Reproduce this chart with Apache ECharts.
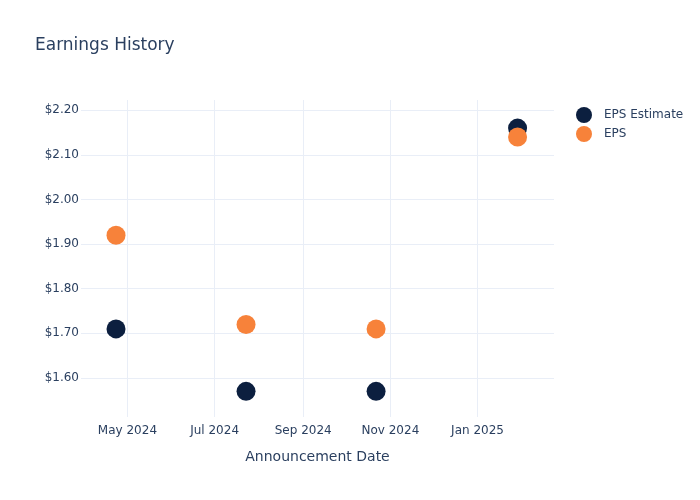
<!DOCTYPE html>
<html>
<head>
<meta charset="utf-8">
<script src="https://cdn.jsdelivr.net/npm/echarts@6/dist/echarts.min.js"></script>
<style>
html,body{margin:0;padding:0;background:#fff;}
#chart{width:700px;height:500px;}
</style>
</head>
<body>
<div id="chart"></div>
<script>
var dates = ['2024-04-23', '2024-07-23', '2024-10-22', '2025-01-29'];
var epsEstimate = [1.71, 1.57, 1.57, 2.16];
var eps = [1.92, 1.72, 1.71, 2.14];
var xTickDates = ['2024-05-01', '2024-07-01', '2024-09-01', '2024-11-01', '2025-01-01'];
var xTickLabels = ['May 2024', 'Jul 2024', 'Sep 2024', 'Nov 2024', 'Jan 2025'];
var yTicks = [1.6, 1.7, 1.8, 1.9, 2.0, 2.1, 2.2];
var xMin = '2024-03-29T12:00:00Z';
var xMax = '2025-02-23T12:00:00Z';
var yMin = 1.5125, yMax = 2.223;

function ts(d){ return Date.parse(d.length === 10 ? d + 'T00:00:00Z' : d); }
var xTickTs = xTickDates.map(ts);
var font = 'DejaVu Sans';
var txt = '#2a3f5f';

var chart = echarts.init(document.getElementById('chart'), null, {renderer:'canvas'});
chart.setOption({
  animation: false,
  backgroundColor: '#fff',
  textStyle: {fontFamily: font},
  title: {
    text: 'Earnings History', left: 30, top: 32,
    textStyle: {fontFamily: font, fontSize: 17, fontWeight: 'normal', color: txt}
  },
  legend: {
    orient: 'vertical', left: 571, top: 102, itemGap: 3,
    itemWidth: 16, itemHeight: 16, icon: 'circle',
    textStyle: {fontFamily: font, fontSize: 12, color: txt, padding: [0,0,0,7]},
    data: ['EPS Estimate', 'EPS']
  },
  grid: {left: 81, right: 146, top: 100, bottom: 83, containLabel: false},
  xAxis: {
    type: 'value', min: ts(xMin), max: ts(xMax),
    name: 'Announcement Date', nameLocation: 'middle', nameGap: 33,
    nameTextStyle: {fontFamily: font, fontSize: 14, color: txt},
    axisLine: {show: false}, axisTick: {show: false, customValues: xTickTs},
    axisLabel: {
      customValues: xTickTs, fontFamily: font, fontSize: 12, color: txt, margin: 8,
      formatter: function(v){ var i = xTickTs.indexOf(v); return i >= 0 ? xTickLabels[i] : ''; }
    },
    splitLine: {show: true, lineStyle: {color: '#e9eef7', width: 1}}
  },
  yAxis: {
    type: 'value', min: yMin, max: yMax,
    axisLine: {show: false}, axisTick: {show: false, customValues: yTicks},
    axisLabel: {
      customValues: yTicks, fontFamily: font, fontSize: 12, color: txt, margin: 2,
      padding: [3, 0, 0, 0],
      formatter: function(v){ return '$' + v.toFixed(2); }
    },
    splitLine: {show: true, lineStyle: {color: '#e9eef7', width: 1}}
  },
  series: [
    {
      name: 'EPS Estimate', type: 'scatter', symbolSize: 19,
      itemStyle: {color: '#0c1f3f', opacity: 1},
      data: dates.map(function(d, i){ return [ts(d), epsEstimate[i]]; })
    },
    {
      name: 'EPS', type: 'scatter', symbolSize: 19,
      itemStyle: {color: '#f7823a', opacity: 1},
      data: dates.map(function(d, i){ return [ts(d), eps[i]]; })
    }
  ]
});
</script>
</body>
</html>
